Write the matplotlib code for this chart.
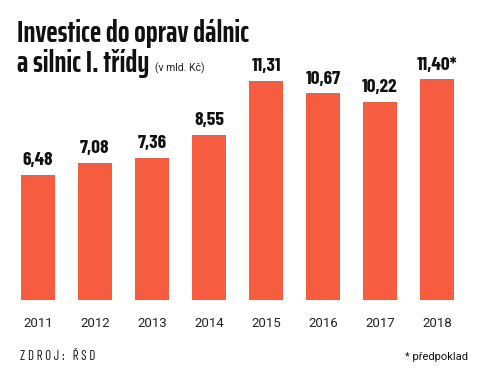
import matplotlib.pyplot as plt

# data
years = ['2011', '2012', '2013', '2014', '2015', '2016', '2017', '2018']
values = [6.48, 7.08, 7.36, 8.55, 11.31, 10.67, 10.22, 11.40]
labels = ['6,48', '7,08', '7,36', '8,55', '11,31', '10,67', '10,22', '11,40*']

cond = ['Barlow Condensed', 'Roboto Condensed', 'DejaVu Sans']
xcond = ['Saira ExtraCondensed', 'Barlow Condensed', 'DejaVu Sans']
plain = ['Roboto', 'Liberation Sans', 'DejaVu Sans']
bar_col = '#F65C40'

fig = plt.figure(figsize=(4.8, 3.88), dpi=100)
ax = fig.add_axes([0.0198, 0.2268, 0.95, 0.6186])

x = range(len(years))
ax.bar(x, values, width=0.61, color=bar_col)
for i, v in enumerate(values):
    ax.text(i, v + 0.3, labels[i], ha='center', va='bottom', fontsize=14,
            fontweight='bold', family=cond, color='#111111')

ax.set_xlim(-0.5, len(years) - 0.5)
ax.set_ylim(0, 12.4)
ax.set_xticks(list(x))
ax.set_xticklabels(years, fontsize=9.5, family=plain, color='#222222')
ax.tick_params(axis='x', length=0, pad=12)
ax.set_yticks([])
for s in ax.spines.values():
    s.set_visible(False)

# title
fig.text(17 / 480, 1 - 33 / 388, 'Investice do oprav dálnic', fontsize=22, fontweight='bold',
         family=xcond, va='center', ha='left', color='#111111')
t2 = fig.text(17 / 480, 1 - 63 / 388, 'a silnic I. třídy', fontsize=22, fontweight='bold',
              family=xcond, va='center', ha='left', color='#111111')
fig.canvas.draw()
bb = t2.get_window_extent()
fig.text((bb.x1 + 6) / 480, 1 - 68 / 388, '(v mld. Kč)', fontsize=7.5,
         family=plain, va='center', ha='left', color='#222222')

# footer
fig.text(20 / 480, 1 - 357 / 388, 'Z D R O J :   Ř S D', fontsize=9.5,
         family=cond, va='center', ha='left', color='#111111')
fig.text(468 / 480, 1 - 357 / 388, '* předpoklad', fontsize=8,
         family=plain, va='center', ha='right', color='#111111')

fig.savefig('out.png', dpi=100, facecolor='white')
